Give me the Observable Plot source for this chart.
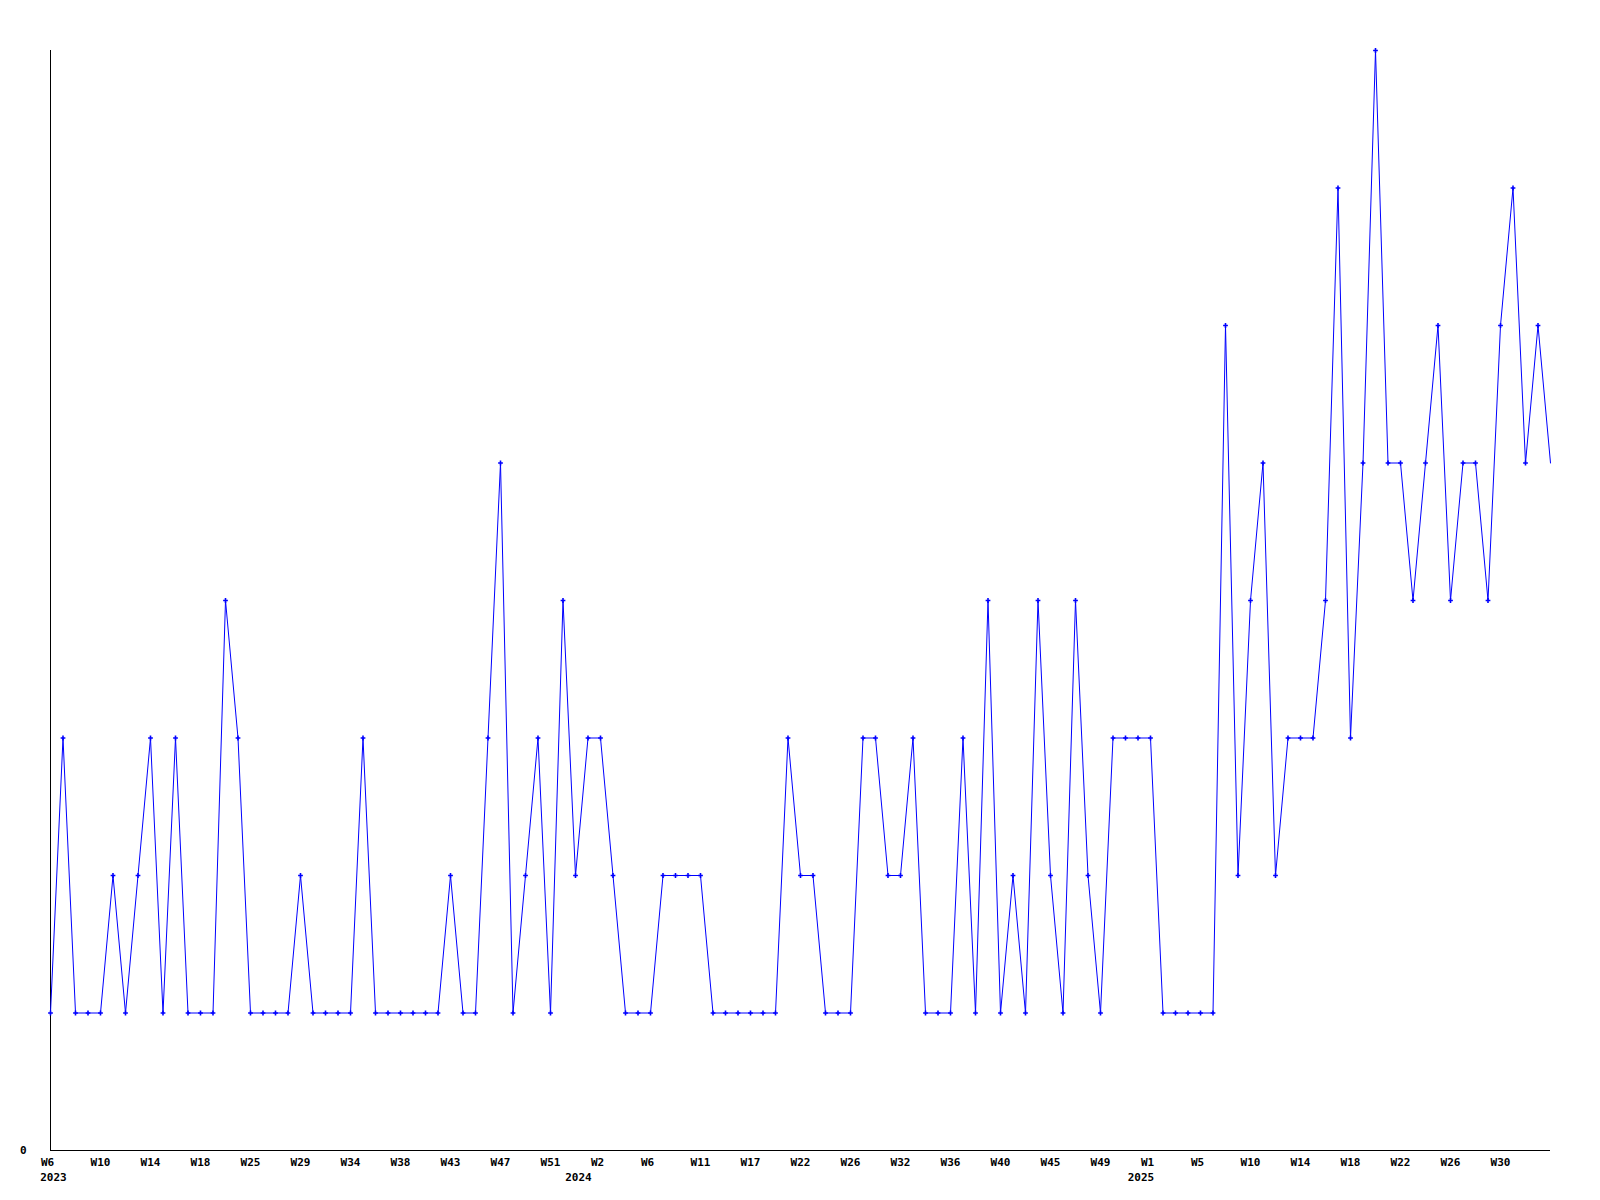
<!DOCTYPE html>
<html>
<head>
<meta charset="utf-8">
<script src="https://cdn.jsdelivr.net/npm/d3@7"></script>
<script src="https://cdn.jsdelivr.net/npm/@observablehq/plot@0.6"></script>
<style>
  html, body { margin: 0; padding: 0; background: #fff; }
</style>
</head>
<body>
<div id="chart"></div>
<script>
// Weekly counts, one value per plotted point (2023 W6 ... 2025)
const values = [
  1,3,1,1,1,2,1,2,3,1,
  3,1,1,1,4,3,1,1,1,1,
  2,1,1,1,1,3,1,1,1,1,
  1,1,2,1,1,3,5,1,2,3,
  1,4,2,3,3,2,1,1,1,2,
  2,2,2,1,1,1,1,1,1,3,
  2,2,1,1,1,3,3,2,2,3,
  1,1,1,3,1,4,1,2,1,4,
  2,1,4,2,1,3,3,3,3,1,
  1,1,1,1,6,2,4,5,2,3,
  3,3,4,7,3,5,8,5,5,4,
  5,6,4,5,5,4,6,7,5,6,
  5
];

// Week tick labels, one every 4th point
const tickLabels = [
  "W6","W10","W14","W18","W25","W29","W34","W38","W43","W47","W51",
  "W2","W6","W11","W17","W22","W26","W32","W36","W40","W45","W49",
  "W1","W5","W10","W14","W18","W22","W26","W30"
];
const tickStep = 4;

// Year labels and the point index they sit under
const yearLabels = ["2023", "2024", "2025"];
const yearIndex = [0, 42, 87];

const data = values.map((v, i) => ({ i, v }));
const years = yearLabels.map((label, k) => ({ label, i: yearIndex[k] }));
const ticks = tickLabels.map((label, k) => ({ label, i: k * tickStep }));
const shortTicks = ticks.filter((t) => t.label.length < 3);
const longTicks = ticks.filter((t) => t.label.length >= 3);
const labelOf = new Map(ticks.map((t) => [t.i, t.label]));

const axisCommon = {
  tickFormat: (d) => labelOf.get(d),
  tickSize: 0,
  tickPadding: 8,
  label: null
};

const chart = Plot.plot({
  width: 1600,
  height: 1200,
  marginLeft: 50,
  marginRight: 50,
  marginTop: 50,
  marginBottom: 50,
  style: {
    fontFamily: "'DejaVu Sans Mono', monospace",
    fontSize: "11px",
    fontWeight: "bold",
    background: "#fff",
    color: "#000"
  },
  x: { domain: [0, values.length - 1], label: null },
  y: { domain: [0, 8], label: null },
  marks: [
    Plot.axisX({ ...axisCommon, ticks: longTicks.map((t) => t.i) }),
    Plot.axisX({ ...axisCommon, ticks: shortTicks.map((t) => t.i), dx: -3 }),
    Plot.axisY({
      ticks: [0],
      tickSize: 0,
      tickPadding: 24,
      label: null
    }),
    Plot.ruleY([0], { stroke: "#000", strokeWidth: 1, shapeRendering: "crispEdges" }),
    Plot.ruleX([0], { stroke: "#000", strokeWidth: 1, shapeRendering: "crispEdges" }),
    Plot.line(data, { x: "i", y: "v", stroke: "#0000ff", strokeWidth: 1 }),
    Plot.dot(data.slice(0, -1), { x: "i", y: "v", symbol: "cross", r: 2, fill: "#0000ff", stroke: "none" }),
    Plot.text(years, {
      x: "i",
      y: () => 0,
      text: "label",
      lineAnchor: "top",
      dy: 23,
      dx: 3,
      fill: "#000"
    })
  ]
});

document.getElementById("chart").appendChild(chart);
</script>
</body>
</html>
